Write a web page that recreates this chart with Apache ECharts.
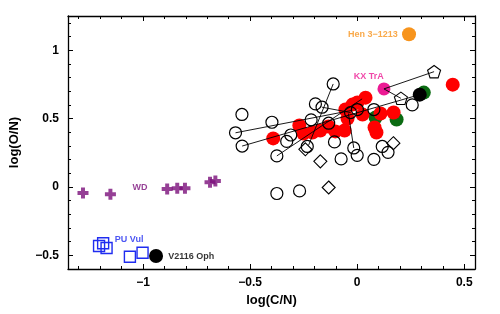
<!DOCTYPE html>
<html>
<head>
<meta charset="utf-8">
<script src="https://cdn.jsdelivr.net/npm/echarts@6/dist/echarts.min.js"></script>
<style>html,body{margin:0;padding:0;background:#fff}#c{width:500px;height:314px}</style>
</head>
<body>
<div id="c"></div>
<script>
// ---- data (log C/N, log O/N) ----
const xMajorTicks = [-1, -0.5, 0, 0.5];
const xMinorTicks = [-1.3,-1.2,-1.1,-0.9,-0.8,-0.7,-0.6,-0.4,-0.3,-0.2,-0.1,0.1,0.2,0.3,0.4];
const yMajorTicks = [-0.5, 0, 0.5, 1];
const yMinorTicks = [-0.4,-0.3,-0.2,-0.1,0.1,0.2,0.3,0.4,0.6,0.7,0.8,0.9,1.1,1.2];

const redPts = [[-0.392,0.355],[-0.270,0.449],[-0.251,0.391],[-0.209,0.398],[-0.172,0.413],
  [-0.134,0.442],[-0.102,0.406],[-0.059,0.413],[-0.055,0.566],[-0.045,0.500],[-0.022,0.602],
  [0.001,0.617],[0.039,0.653],[0.025,0.529],[0.109,0.537],[0.170,0.544],[0.081,0.435],
  [0.090,0.398],[0.446,0.748]];
const greenPts = [[0.086,0.508],[0.184,0.493],[0.311,0.690]];
const blackPts = [[0.292,0.675],[-0.939,-0.505]];
const kxTrA = [[0.125,0.717]];
const hen31213 = [[0.242,1.117]];
const openCircles = [[-0.538,0.530],[-0.568,0.396],[-0.537,0.299],[-0.398,0.473],[-0.112,0.753],
  [-0.195,0.607],[-0.164,0.583],[-0.215,0.491],[-0.133,0.466],[-0.310,0.380],[-0.329,0.333],
  [-0.233,0.296],[-0.375,0.227],[-0.106,0.329],[-0.031,0.544],[0.001,0.566],[0.078,0.566],
  [0.257,0.600],[0.117,0.296],[0.144,0.253],[-0.016,0.285],[0.000,0.231],[-0.075,0.205],
  [0.078,0.202],[-0.375,-0.048],[-0.269,-0.029]];
const diamonds = [[-0.172,0.187],[-0.133,-0.004],[0.169,0.320],[-0.242,0.275]];
const pentagons = [[0.359,0.843],[0.204,0.648]];
const wdPts = [[-1.280,-0.044],[-1.152,-0.053],[-0.887,-0.015],[-0.840,-0.009],[-0.804,-0.009],
  [-0.687,0.034],[-0.662,0.044]];
const puVulPts = [[-1.205,-0.432],[-1.186,-0.412],[-1.170,-0.446],[-1.061,-0.510],[-1.002,-0.481]];
const segments = [
  [[-0.568,0.396],[-0.025,0.560]],
  [[-0.537,0.299],[0.292,0.675]],
  [[-0.375,0.227],[0.023,0.644]],
  [[-0.112,0.753],[-0.227,0.304]],
  [[-0.164,0.583],[-0.031,0.544]],
  [[-0.041,0.537],[-0.016,0.285]],
  [[0.125,0.717],[0.359,0.843]],
  [[0.125,0.717],[0.204,0.648]]
];
const labelTexts = ['Hen 3\u22121213', 'KX TrA', 'WD', 'PU Vul', 'V2116 Oph'];
const labelPos = [[0.073,1.117],[0.054,0.806],[-1.014,-0.004],[-1.065,-0.388],[-0.775,-0.510]];

// ---- styles ----
const FONT = '"Liberation Sans", Arial, Helvetica, sans-serif';
const labelColors = ['#f7941d', '#ec1a94', '#7a0f7a', '#1f2cf0', '#000000'];
const fmt = v => (v < 0 ? '\u2212' + Math.abs(v) : String(v));
const PENT = 'path://M50,0 L97.55,34.55 L79.39,90.45 L20.61,90.45 L2.45,34.55 Z';
const PLUS = 'path://M32,0h36v32h32v36h-32v32h-36v-32h-32v-36h32z';

function axisBase(pos, min, max, ticks, len, showLine) {
  return {
    type: 'value', min: min, max: max, position: pos, gridIndex: 0,
    axisLine: { show: showLine, onZero: false, lineStyle: { color: '#000', width: 1.3 } },
    axisTick: { show: true, inside: true, length: len, customValues: ticks, lineStyle: { color: '#000', width: 1 } },
    axisLabel: { show: false },
    splitLine: { show: false },
    minorTick: { show: false }
  };
}
const xB = axisBase('bottom', -1.35, 0.55, xMajorTicks, 5, true);
xB.axisLabel = { show: true, customValues: xMajorTicks, formatter: fmt, margin: 8, color: '#000', fontWeight: 'bold', fontSize: 12, fontFamily: FONT };
xB.name = 'log(C/N)'; xB.nameLocation = 'middle'; xB.nameGap = 25;
xB.nameTextStyle = { color: '#000', fontWeight: 'bold', fontSize: 13, fontFamily: FONT };
const yL = axisBase('left', -0.6, 1.25, yMajorTicks, 5, true);
yL.axisLabel = { show: true, customValues: yMajorTicks, formatter: fmt, margin: 9, color: '#000', fontWeight: 'bold', fontSize: 12, fontFamily: FONT };
yL.name = 'log(O/N)'; yL.nameLocation = 'middle'; yL.nameGap = 47; yL.nameRotate = 90;
yL.nameTextStyle = { color: '#000', fontWeight: 'bold', fontSize: 13, fontFamily: FONT };

const xAxes = [xB,
  axisBase('bottom', -1.35, 0.55, xMinorTicks, 3, false),
  axisBase('top', -1.35, 0.55, xMajorTicks, 5, true),
  axisBase('top', -1.35, 0.55, xMinorTicks, 3, false)];
const yAxes = [yL,
  axisBase('left', -0.6, 1.25, yMinorTicks, 3, false),
  axisBase('right', -0.6, 1.25, yMajorTicks, 5, true),
  axisBase('right', -0.6, 1.25, yMinorTicks, 3, false)];

function filled(data, color, size, z) {
  return { type: 'scatter', data: data, symbol: 'circle', symbolSize: size || 13, z: z || 2,
    itemStyle: { color: color, opacity: 1 }, silent: true };
}
function open(data, symbol, size, color, bw, z) {
  return { type: 'scatter', data: data, symbol: symbol, symbolSize: size, symbolKeepAspect: true, z: z || 4,
    itemStyle: { color: 'rgba(0,0,0,0)', borderColor: color, borderWidth: bw, opacity: 1 }, silent: true };
}

const series = [
  filled(greenPts, '#0b6b12', 14, 2),
  filled(redPts, '#ff0000', 14, 2),
  filled(blackPts, '#000000', 14, 2),
  filled(kxTrA, '#ec1a94', 13, 2),
  filled(hen31213, '#f7941d', 14, 2)
];
segments.forEach(s => series.push({ type: 'line', data: s, symbol: 'none', z: 3, silent: true,
  lineStyle: { color: '#000', width: 0.9 }, animation: false }));
series.push(open(openCircles, 'circle', 12, '#000', 1.2, 4));
series.push(open(diamonds, 'diamond', 13, '#000', 1.1, 4));
series.push(open(pentagons, PENT, 13, '#000', 1.1, 4));
series.push({ type: 'scatter', data: wdPts, symbol: PLUS, symbolSize: 11, z: 4, silent: true,
  itemStyle: { color: '#7a0f7a' } });
series.push(open(puVulPts, 'rect', 11, '#1f2cf0', 1.4, 4));
series.push({ type: 'scatter', z: 6, silent: true, symbolSize: 1,
  itemStyle: { color: 'rgba(0,0,0,0)' },
  data: labelTexts.map((t, i) => ({ name: t, value: labelPos[i],
    label: { show: true, position: 'inside', formatter: t, color: labelColors[i],
      fontWeight: 'bold', fontSize: 9, fontFamily: FONT } })) });

const chart = echarts.init(document.getElementById('c'), null, { renderer: 'canvas' });
chart.setOption({
  animation: false,
  backgroundColor: '#fff',
  grid: { left: 68, top: 16, width: 407, height: 253, containLabel: false, outerBoundsMode: 'none' },
  xAxis: xAxes,
  yAxis: yAxes,
  series: series
});
</script>
</body>
</html>
